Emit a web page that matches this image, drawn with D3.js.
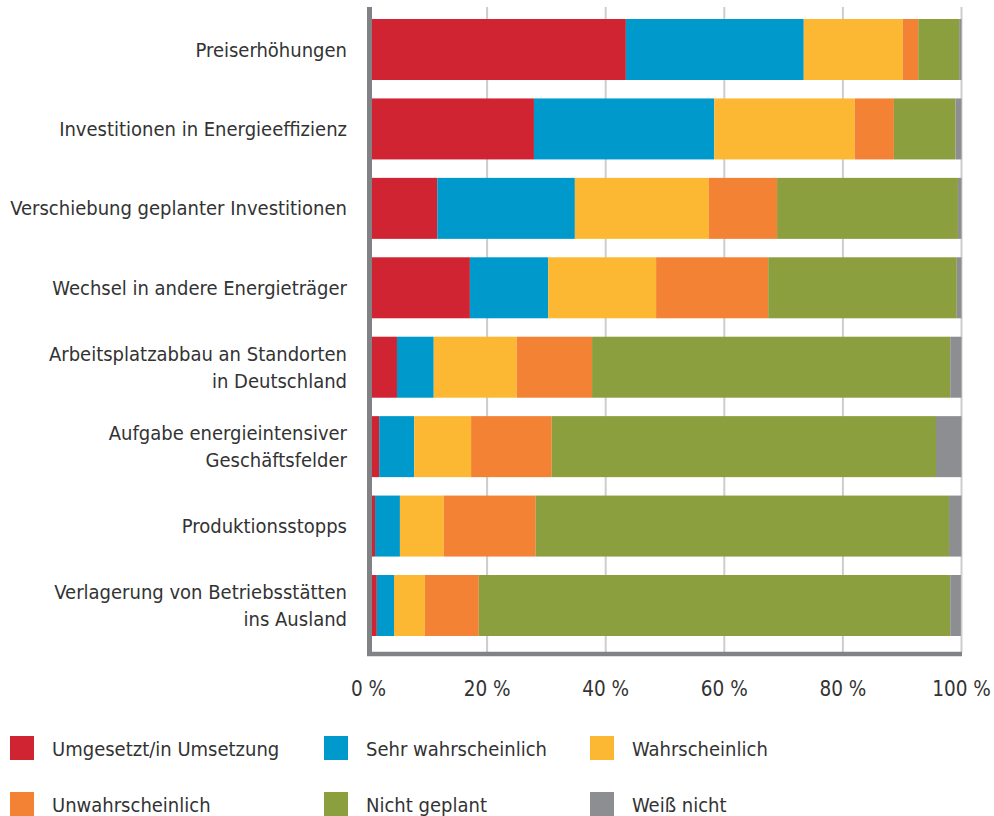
<!DOCTYPE html>
<html>
<head>
<meta charset="utf-8">
<script src="https://cdn.jsdelivr.net/npm/d3@7"></script>
<style>
  body { margin: 0; background: #fff; }
  svg text { font-family: "DejaVu Sans Condensed", "Liberation Sans Narrow", sans-serif; fill: #333; }
</style>
</head>
<body>
<svg width="994" height="816"></svg>
<script>
// categories (top to bottom), each label split into lines
var categories = [
  ["Preiserhöhungen"],
  ["Investitionen in Energieeffizienz"],
  ["Verschiebung geplanter Investitionen"],
  ["Wechsel in andere Energieträger"],
  ["Arbeitsplatzabbau an Standorten", "in Deutschland"],
  ["Aufgabe energieintensiver", "Geschäftsfelder"],
  ["Produktionsstopps"],
  ["Verlagerung von Betriebsstätten", "ins Ausland"]
];

var seriesNames = ["Umgesetzt/in Umsetzung", "Sehr wahrscheinlich", "Wahrscheinlich",
                   "Unwahrscheinlich", "Nicht geplant", "Weiß nicht"];
var seriesColors = ["#d02433", "#0099cc", "#fcb833", "#f38234", "#8b9f3e", "#8d8e92"];

// shares in percent, one value per category
var umgesetzt        = [43.4, 27.9, 11.6, 17.1,  4.8,  1.8,  1.1,  1.4];
var sehrWahrsch      = [30.0, 30.4, 23.2, 13.2,  6.2,  5.9,  4.2,  2.9];
var wahrscheinlich   = [16.7, 23.7, 22.6, 18.2, 14.0,  9.6,  7.4,  5.2];
var unwahrscheinlich = [ 2.6,  6.6, 11.5, 18.9, 12.7, 13.6, 15.5,  9.1];
var nichtGeplant     = [ 6.9, 10.4, 30.5, 31.8, 60.4, 64.8, 69.7, 79.5];
var weissNicht       = [ 0.4,  1.0,  0.6,  0.8,  1.9,  4.3,  2.1,  1.8];

var tickValues = [0, 20, 40, 60, 80, 100];

var svg = d3.select("svg");

var rows = categories.map(function(c, i) {
  return {
    key: i,
    s0: umgesetzt[i], s1: sehrWahrsch[i], s2: wahrscheinlich[i],
    s3: unwahrscheinlich[i], s4: nichtGeplant[i], s5: weissNicht[i]
  };
});
var keys = ["s0", "s1", "s2", "s3", "s4", "s5"];

var x = d3.scaleLinear().domain([0, 100]).range([368.5, 961.5]);
var y = d3.scaleBand()
    .domain(d3.range(categories.length))
    .range([9.8, 645.2])
    .paddingInner(0.232)
    .paddingOuter(0.116);

// grid lines
svg.append("g").selectAll("line")
  .data(tickValues.slice(1))
  .enter().append("line")
    .attr("x1", function(d) { return x(d); })
    .attr("x2", function(d) { return x(d); })
    .attr("y1", 7)
    .attr("y2", 652)
    .attr("stroke", "#cdcdcd")
    .attr("stroke-width", 2);

// stacked bars
var stack = d3.stack().keys(keys)(rows);
svg.append("g").selectAll("g")
  .data(stack)
  .enter().append("g")
    .attr("fill", function(d, i) { return seriesColors[i]; })
  .selectAll("rect")
  .data(function(d) { return d; })
  .enter().append("rect")
    .attr("x", function(d) { return x(d[0]); })
    .attr("width", function(d) { return x(d[1]) - x(d[0]); })
    .attr("y", function(d) { return y(d.data.key); })
    .attr("height", y.bandwidth());

// axis lines
svg.append("line")
  .attr("x1", 369.5).attr("x2", 369.5)
  .attr("y1", 7).attr("y2", 656)
  .attr("stroke", "#818285").attr("stroke-width", 5);
svg.append("line")
  .attr("x1", 367).attr("x2", 962)
  .attr("y1", 654).attr("y2", 654)
  .attr("stroke", "#818285").attr("stroke-width", 4.5);

// x tick labels
svg.append("g").selectAll("text")
  .data(tickValues)
  .enter().append("text")
    .attr("x", function(d) { return x(d); })
    .attr("y", 696)
    .attr("text-anchor", "middle")
    .style("font-size", "20.5px")
    .text(function(d) { return d + " %"; });

// category labels
var lineHeight = 27;
var lab = svg.append("g").selectAll("text")
  .data(categories)
  .enter().append("text")
    .attr("text-anchor", "end")
    .style("font-size", "20px")
    .attr("y", function(d, i) {
      var c = y(i) + y.bandwidth() / 2 + 7;
      return c - (d.length - 1) * lineHeight / 2;
    });
lab.each(function(d) {
  var t = d3.select(this);
  var y0 = +t.attr("y");
  d.forEach(function(line, j) {
    t.append("tspan").attr("x", 347).attr("y", y0 + j * lineHeight).text(line);
  });
});

// legend
var legendX = [10, 324, 590];
var legendY = [736, 792];
var leg = svg.append("g").selectAll("g")
  .data(seriesNames)
  .enter().append("g")
    .attr("transform", function(d, i) {
      return "translate(" + legendX[i % 3] + "," + legendY[Math.floor(i / 3)] + ")";
    });
leg.append("rect")
  .attr("width", 24).attr("height", 24)
  .attr("fill", function(d, i) { return seriesColors[i]; });
leg.append("text")
  .attr("x", 42)
  .attr("y", 20)
  .style("font-size", "20px")
  .text(function(d) { return d; });
</script>
</body>
</html>
